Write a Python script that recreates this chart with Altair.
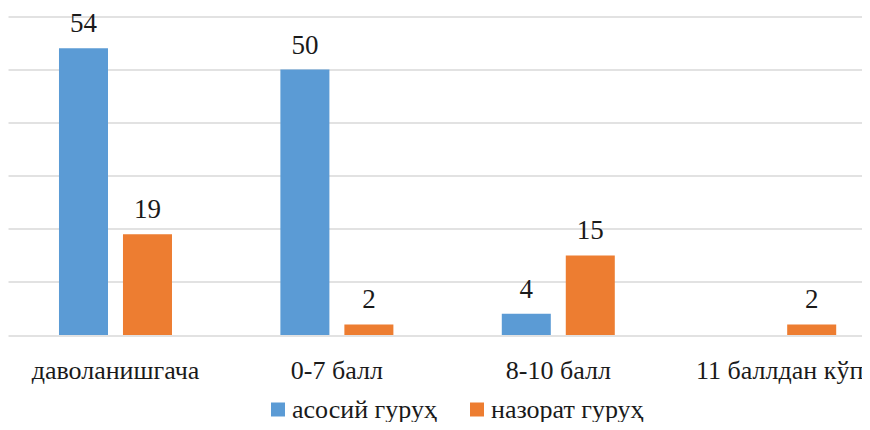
import altair as alt
import pandas as pd

categories = ["даволанишгача", "0-7 балл", "8-10 балл", "11 баллдан кўп"]
series = ["асосий гуруҳ", "назорат гуруҳ"]
main_values = [54, 50, 4, 0]
control_values = [19, 2, 15, 2]
colors = ["#5B9BD5", "#ED7D31"]

rows = []
for c, a, b in zip(categories, main_values, control_values):
    rows.append({"cat": c, "group": series[0], "value": a})
    rows.append({"cat": c, "group": series[1], "value": b})
df = pd.DataFrame(rows)

FONT = "Liberation Serif"
TXT = "#1a1a1a"
FS = 27

x = alt.X("cat:N", sort=categories, title=None,
          scale=alt.Scale(paddingInner=0.4896, paddingOuter=0.1734, align=0.664),
          axis=alt.Axis(labelAngle=0, domain=False, ticks=False, labelPadding=43,
                        labelBaseline="alphabetic", labelLimit=400,
                        labelFont=FONT, labelFontSize=26, labelColor=TXT))
xo = alt.XOffset("group:N", sort=series,
                 scale=alt.Scale(paddingInner=0.234, paddingOuter=0))
y = alt.Y("value:Q", title=None, scale=alt.Scale(domain=[0, 60]),
          axis=alt.Axis(values=[0, 10, 20, 30, 40, 50, 60], labels=False, ticks=False,
                        domain=False, gridColor="#D9D9D9", gridWidth=1.5))

bars = alt.Chart(df).mark_bar().encode(
    x=x, xOffset=xo, y=y,
    color=alt.Color("group:N", sort=series, title=None,
                    scale=alt.Scale(domain=series, range=colors),
                    legend=alt.Legend(orient="none", legendX=257, legendY=380,
                                      direction="horizontal", symbolType="square",
                                      symbolSize=196, symbolStrokeWidth=0,
                                      labelFont=FONT, labelFontSize=26, labelOffset=1,
                                      labelLimit=400,
                                      labelColor=TXT, columnPadding=27, padding=0)),
)

labels = alt.Chart(df).transform_filter("datum.value > 0").mark_text(
    baseline="alphabetic", dy=-16, font=FONT, fontSize=FS, color=TXT
).encode(x=alt.X("cat:N", sort=categories), xOffset=alt.XOffset("group:N", sort=series),
         y="value:Q", text="value:Q")

chart = alt.layer(bars, labels).properties(
    width=854, height=318.5,
    padding={"left": 0, "top": 8.5, "right": 0, "bottom": 87},
    autosize=alt.AutoSizeParams(type="none"),
).configure_view(stroke=None)

chart.save("out.html", embed_options={"renderer": "svg", "actions": False})
